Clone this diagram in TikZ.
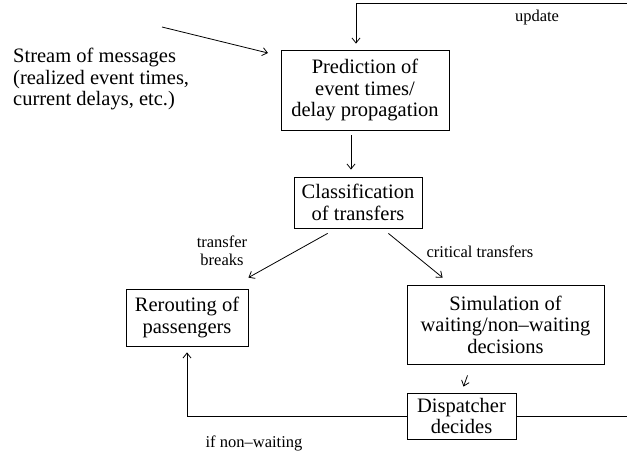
\documentclass[tikz,border=0pt]{standalone}
\usepackage{fontspec}
\setmainfont{Liberation Serif}
\usetikzlibrary{arrows.meta}

\newcommand{\bigtext}{\fontsize{20.5}{21.5}\selectfont}
\newcommand{\smalltext}{\fontsize{16.5}{18}\selectfont}

\tikzset{
    box/.style={draw, rectangle, align=center, inner sep=0pt, line width=0.8pt, font=\bigtext},
    lbl/.style={align=center, inner sep=0pt, font=\smalltext},
    arr/.style={line width=0.8pt, -{Straight Barb[length=5pt,width=8pt]}}
}

\begin{document}
\begin{tikzpicture}[x=1pt, y=-1pt]

        \useasboundingbox (0,0) rectangle (627,456);

        % Stream of messages
        \node[align=left, anchor=west, inner sep=0pt, font=\bigtext] (msgs) at (13,79) {Stream of messages\\(realized event times,\\current delays, etc.)};
        \coordinate (msgtail) at (162,27);
        \coordinate (msghead) at (268,53);
        \draw[arr] (msgtail) -- (msghead);

        % Prediction
        \node[box, minimum width=168pt, minimum height=80pt] (pred) at (365,90) {Prediction of\\event times/\\delay propagation};

        % Classification
        \node[box, minimum width=128pt, minimum height=51pt] (class) at (358,202.5) {Classification\\of transfers};

        % Rerouting
        \node[box, minimum width=122pt, minimum height=57pt] (reroute) at (187,317.5) {Rerouting of\\passengers};

        % Simulation
        \node[box, minimum width=197pt, minimum height=79pt] (sim) at (505.5,324.5) {Simulation of\\waiting/non--waiting\\decisions};

        % Dispatcher
        \node[box, minimum width=109pt, minimum height=46pt] (disp) at (461.5,416) {Dispatcher\\decides};

        % Prediction -> Classification
        \draw[arr, shorten <=5pt, shorten >=7pt] ([xshift=-14pt]pred.south) -- ([xshift=-7pt]class.north);

        % Classification -> Rerouting
        \draw[arr] ([shift={(34pt,-5pt)}]class.south west) -- ([yshift=11pt]reroute.north east);
        \node[lbl] (breaks) at (222,251) {transfer\\breaks};

        % Classification -> Simulation
        \draw[arr] ([shift={(-34pt,-5pt)}]class.south east) -- ([shift={(36pt,7pt)}]sim.north west);
        \node[lbl] (critical) at (480,252) {critical transfers};

        % Simulation -> Dispatcher
        \draw[arr] ([shift={(-38pt,-11pt)}]sim.south) -- ([shift={(2pt,6pt)}]disp.north);

        % Dispatcher -> Rerouting
        \draw[arr] (disp.west) -| ([yshift=-6pt]reroute.south);
        \node[lbl] (nonwait) at (254,443) {if non--waiting};

        % Dispatcher -> Prediction
        \coordinate (updcorner) at (356,3);
        \draw[arr, shorten >=6pt] (disp.east) -- ++(113,0) |- (updcorner) -- (updcorner |- pred.north);
        \node[lbl] (update) at (537,18) {update};

    \end{tikzpicture}
\end{document}
